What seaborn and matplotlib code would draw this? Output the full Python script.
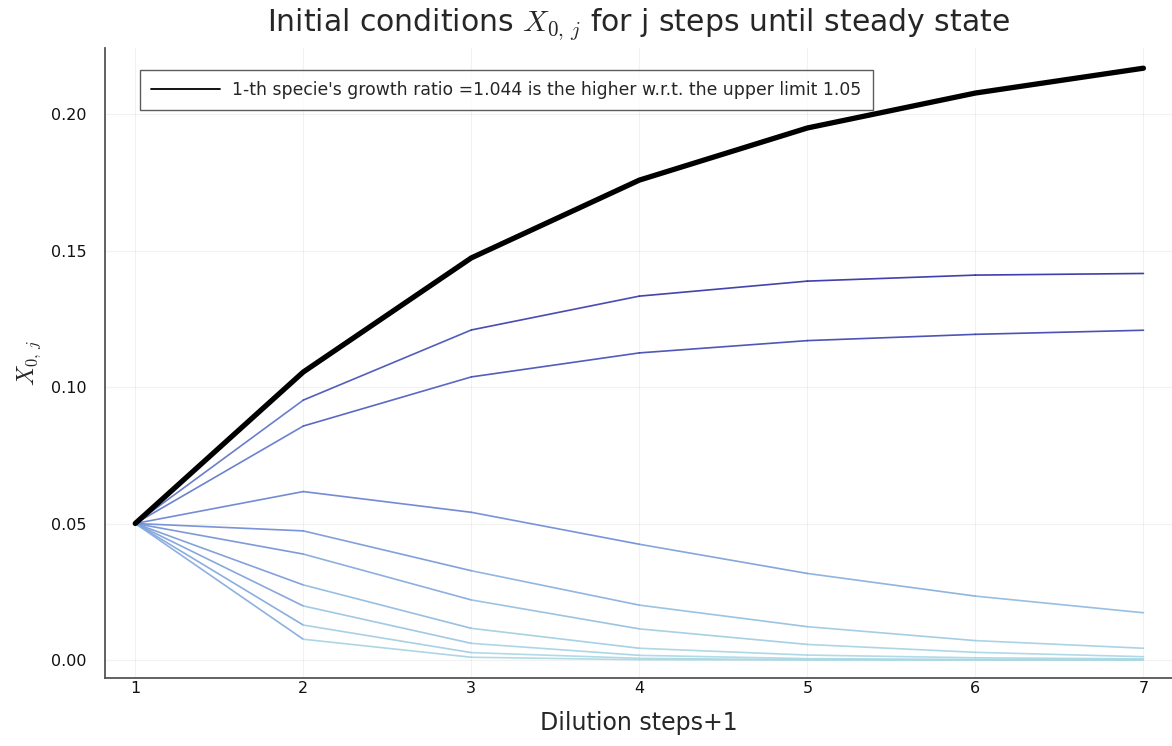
import numpy as np
import pandas as pd
import matplotlib
matplotlib.use("Agg")
import matplotlib.pyplot as plt
from matplotlib.collections import LineCollection
from matplotlib.colors import LinearSegmentedColormap, Normalize
import seaborn as sns

# Dilution steps (+1) on the x axis
steps = [1, 2, 3, 4, 5, 6, 7]

# Species with the highest growth ratio (drawn in black)
top_species = [0.05, 0.1055, 0.1473, 0.1758, 0.1949, 0.2077, 0.2168]

# Remaining species, coloured by their value
other_species = [
    [0.05, 0.0952, 0.1209, 0.1333, 0.1388, 0.1410, 0.1416],
    [0.05, 0.0857, 0.1037, 0.1125, 0.1170, 0.1193, 0.1208],
    [0.05, 0.0617, 0.0541, 0.0424, 0.0317, 0.0234, 0.0173],
    [0.05, 0.0473, 0.0327, 0.0201, 0.0122, 0.0071, 0.0043],
    [0.05, 0.0388, 0.0220, 0.0114, 0.0057, 0.0028, 0.0012],
    [0.05, 0.0275, 0.0116, 0.0043, 0.0018, 0.0008, 0.0004],
    [0.05, 0.0198, 0.0061, 0.0017, 0.0005, 0.0002, 0.0001],
    [0.05, 0.0128, 0.0027, 0.0006, 0.0001, 0.0000, 0.0000],
    [0.05, 0.0076, 0.0010, 0.0001, 0.0000, 0.0000, 0.0000],
]

y_ticks = [0.00, 0.05, 0.10, 0.15, 0.20]
legend_label = "1-th specie's growth ratio =1.044 is the higher w.r.t. the upper limit 1.05"

sns.set_style("white")
plt.rcParams["font.family"] = ["DejaVu Sans"]
plt.rcParams["mathtext.fontset"] = "cm"

fig = plt.figure(figsize=(11.72, 7.46), dpi=100)
ax = fig.add_axes([105 / 1172, 68 / 746, 1067 / 1172, 630 / 746])

cmap = LinearSegmentedColormap.from_list(
    "value_blues",
    [(0.0, "#aad8e4"), (0.12, "#8fbde0"), (0.35, "#6a86d4"), (1.0, "#2a2aa3")],
)
vmax = max(max(s) for s in other_species)
norm = Normalize(0.0, vmax)

segments, seg_vals = [], []
for series in other_species:
    for i in range(len(steps) - 1):
        segments.append([(steps[i], series[i]), (steps[i + 1], series[i + 1])])
        seg_vals.append(0.5 * (series[i] + series[i + 1]))
lc = LineCollection(segments, colors=cmap(norm(np.array(seg_vals))),
                    linewidths=1.2, alpha=0.9, capstyle="round", joinstyle="round", zorder=2)
ax.add_collection(lc)

df_top = pd.DataFrame({"step": steps, "value": top_species})
sns.lineplot(data=df_top, x="step", y="value", ax=ax, color="black",
             linewidth=3.8, label=legend_label, zorder=3)

ax.set_xlim(0.82, 7.17)
ax.set_ylim(-0.0066, 0.2242)
ax.set_xticks(steps)
ax.set_yticks(y_ticks)
ax.set_yticklabels([f"{t:.2f}" for t in y_ticks])
ax.tick_params(direction="in", length=4, width=1, color="#444444", labelsize=11.5,
               labelcolor="#111111")
ax.tick_params(axis="y", pad=13)
ax.tick_params(axis="x", pad=2)

ax.grid(True, color="#000000", alpha=0.05, linewidth=0.8)
for side in ["top", "right"]:
    ax.spines[side].set_visible(False)
for side in ["left", "bottom"]:
    ax.spines[side].set_color("#555555")
    ax.spines[side].set_linewidth(1.3)

ax.set_title(r"Initial conditions $X_{0,\,j}$ for j steps until steady state",
             fontsize=21.5, pad=12)
ax.set_xlabel("Dilution steps+1", fontsize=17, labelpad=11)
ax.set_ylabel(r"$X_{0,\,j}$", fontsize=17, labelpad=6)

leg = ax.legend(loc="upper left", bbox_to_anchor=(0.0328, 0.965), fontsize=12.4,
                handlelength=4.0, handletextpad=0.7, frameon=True, fancybox=False,
                borderpad=0.65, borderaxespad=0.0)
leg.get_frame().set_edgecolor("#333333")
leg.get_frame().set_linewidth(1.0)
for line in leg.get_lines():
    line.set_linewidth(1.3)

fig.savefig("out.png", dpi=100)
